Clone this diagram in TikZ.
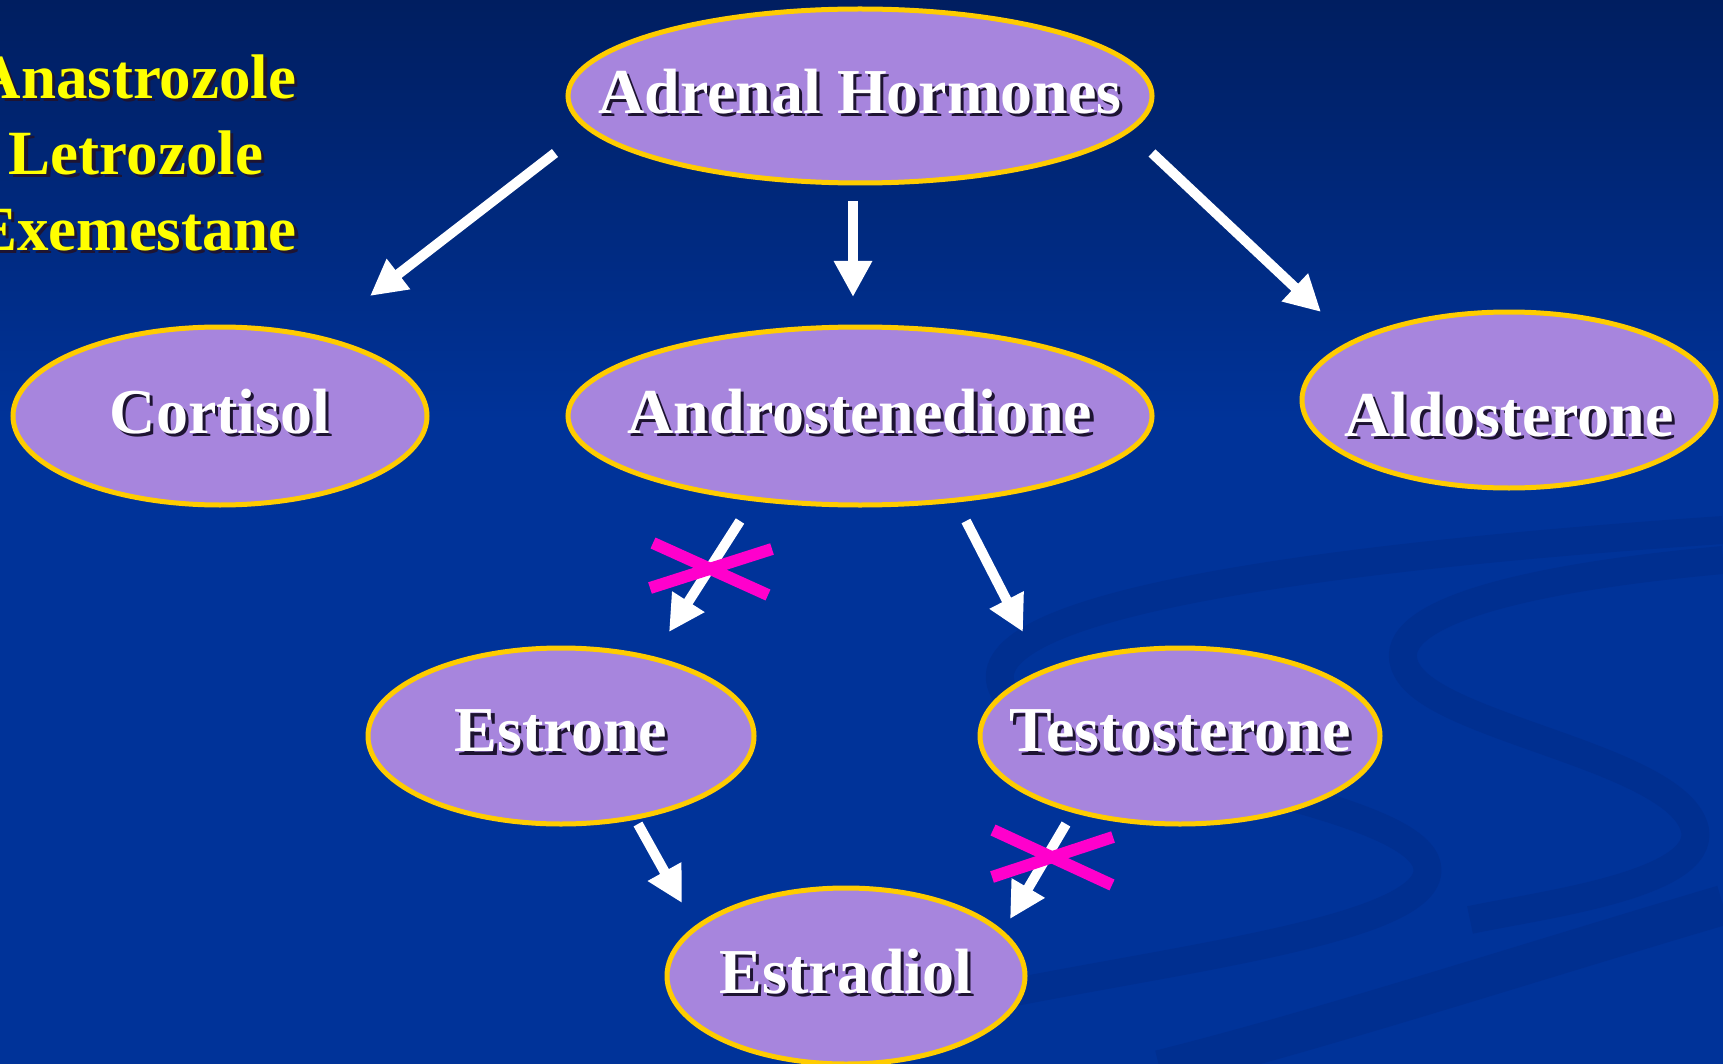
\documentclass[tikz,border=0pt]{standalone}
\usepackage{fontspec}
\setmainfont{Liberation Serif}
\usetikzlibrary{shapes.geometric,arrows.meta}
\definecolor{bgblue}{RGB}{0,51,153}
\definecolor{bgtop}{RGB}{0,30,96}
\definecolor{swirl}{RGB}{0,40,130}
\definecolor{lav}{RGB}{167,133,221}
\definecolor{gold}{RGB}{255,204,0}
\definecolor{mag}{RGB}{255,0,204}
\definecolor{shadowc}{RGB}{30,20,50}
\definecolor{drugyellow}{RGB}{255,255,0}
\newcommand{\mysh}[1]{\leavevmode\rlap{\hspace{1.6pt}\raisebox{-1.6pt}{\textcolor{shadowc}{#1}}}#1}
\newcommand{\htext}[1]{\makebox[0pt]{\mysh{#1}}}
\begin{document}
\begin{tikzpicture}[x=0.5pt,y=-0.5pt,
  hormone/.style={ellipse, fill=lav, draw=gold, line width=2.5pt, inner sep=0pt,
    text=white, text depth=5pt, font=\fontsize{32}{38}\selectfont\bfseries},
  flow/.style={draw=white, line width=5pt, -{Triangle[length=18pt,width=18pt]}},
  block/.style={draw=mag, line width=6pt},
  swirlband/.style={draw=swirl, line width=14pt, opacity=0.35}
]
\useasboundingbox (0,0) rectangle (1723,1064);
% background
\fill[bgblue] (0,0) rectangle (1723,1064);
\shade[top color=bgtop, bottom color=bgblue] (0,0) rectangle (1723,420);
% swirls
\draw[swirlband] (1723,530) .. controls (1350,555) and (990,600) .. (1000,680)
  .. controls (1010,760) and (1390,790) .. (1425,860)
  .. controls (1455,925) and (1200,955) .. (1000,995);
\draw[swirlband] (1723,560) .. controls (1500,580) and (1370,620) .. (1410,675)
  .. controls (1450,730) and (1680,760) .. (1695,830)
  .. controls (1705,885) and (1540,905) .. (1470,920);
\draw[swirlband, line width=20pt] (1723,905) .. controls (1520,965) and (1320,1030) .. (1160,1070);

% drug names
\node (drugs) [anchor=base, align=center, text=drugyellow, font=\fontsize{31.5}{38}\selectfont\bfseries]
  at (136,250) {\mysh{Anastrozole}\\\mysh{Letrozole}\\\mysh{Exemestane}};

% hormone nodes
\node (adrenal) [hormone, minimum width=292pt, minimum height=87pt] at (860,96) {\htext{Adrenal Hormones}};
\node (cortisol) [hormone, minimum width=207pt, minimum height=89pt] at (220,416) {\htext{Cortisol}};
\node (andro) [hormone, minimum width=292pt, minimum height=89pt] at (860,416) {\htext{Androstenedione}};
\node (aldo) [hormone, minimum width=207pt, minimum height=88pt, text height=36pt, text depth=0pt] at (1509,400) {\htext{Aldosterone}};
\node (estrone) [hormone, minimum width=193pt, minimum height=88pt] at (561,736) {\htext{Estrone}};
\node (testo) [hormone, minimum width=200pt, minimum height=88pt] at (1180,736) {\htext{Testosterone}};
\node (estradiol) [hormone, minimum width=179pt, minimum height=88pt] at (846,976) {\htext{Estradiol}};

% connector end points
\coordinate (a1s) at (555,153);  \coordinate (a1e) at (370,296);
\coordinate (a2s) at (853,201);  \coordinate (a2e) at (853,297);
\coordinate (a3s) at (1152,153); \coordinate (a3e) at (1321,312);
\coordinate (a4s) at (740,521);  \coordinate (a4e) at (669,632);
\coordinate (a5s) at (966,521);  \coordinate (a5e) at (1023,632);
\coordinate (a6s) at (638,824);  \coordinate (a6e) at (682,903);
\coordinate (a7s) at (1066,824); \coordinate (a7e) at (1010,919);

\draw[flow] (a1s) -- (a1e);
\draw[flow] (a2s) -- (a2e);
\draw[flow] (a3s) -- (a3e);
\draw[flow] (a4s) -- (a4e);
\draw[flow] (a5s) -- (a5e);
\draw[flow] (a6s) -- (a6e);
\draw[flow] (a7s) -- (a7e);

% blocking crosses
\draw[block] (653,543) -- (768,595);
\draw[block] (650,588) -- (772,549);
\draw[block] (993,830) -- (1112,885);
\draw[block] (992,877) -- (1113,837);
\end{tikzpicture}
\end{document}
